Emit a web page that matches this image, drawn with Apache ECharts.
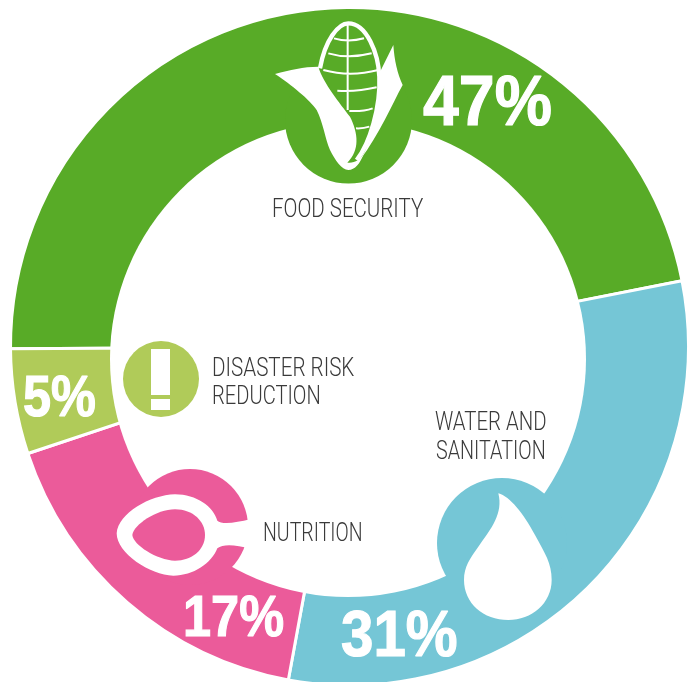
<!DOCTYPE html>
<html><head><meta charset="utf-8">
<script src="https://cdn.jsdelivr.net/npm/echarts@6/dist/echarts.min.js"></script>
<style>html,body{margin:0;padding:0;background:#fff}#c{width:696px;height:682px}</style>
</head><body><div id="c"></div>
<script>
var categories = ['FOOD SECURITY', 'WATER AND SANITATION', 'NUTRITION', 'DISASTER RISK REDUCTION'];
var values = [47, 31, 17, 5];
var colors = ['#58AB27', '#75C6D6', '#EB5B9A', '#B0CB59'];
var captionLines = [['FOOD SECURITY'], ['WATER AND', 'SANITATION'], ['NUTRITION'], ['DISASTER RISK', 'REDUCTION']];

var chart = echarts.init(document.getElementById('c'), null, {renderer: 'canvas'});
var els = [];
function circle(cx, cy, r, fill) { els.push({type: 'circle', shape: {cx: cx, cy: cy, r: r}, style: {fill: fill}}); }
function path(d, ox, oy, style) {
  els.push({type: 'path', x: ox, y: oy, scaleX: 1 / 3, scaleY: 1 / 3, shape: {pathData: d}, style: style});
}
function pct(i, x, y, size, sx) {
  els.push({type: 'text', x: x, y: y, scaleX: sx, style: {text: values[i] + '%', x: 0, y: 0, fill: '#fff',
    stroke: '#fff', lineWidth: 1.2,
    font: 'bold ' + size + 'px "Liberation Sans"', align: 'left', verticalAlign: 'middle'}});
}
function cap(t, x, y, sx) {
  els.push({type: 'text', x: x, y: y, scaleX: sx, style: {text: t, x: 0, y: 0, fill: '#3a3a3a',
    font: '300 25px Roboto', align: 'left', verticalAlign: 'middle'}});
}
// inner white disc (sits slightly below the ring's centre in the reference)
circle(348, 359, 238, '#fff');
// icon discs
circle(348.5, 120, 63.5, colors[0]);
circle(502, 543, 65, colors[1]);
circle(190, 527, 58, colors[2]);
circle(161, 379, 38, colors[3]);

// corn
var W = {fill: '#fff'};
var LINE = {fill: 'none', stroke: '#fff', lineWidth: 6};
path('M180 175C195 90 235 40 265 40C320 40 355 130 358 200C362 290 330 400 290 450', 260, 10, {fill: 'none', stroke: '#fff', lineWidth: 13});
path('M263 40L263 300M222 85Q265 98 312 85M205 130Q265 148 335 130M190 180Q270 202 355 180M232 242Q290 246 350 232M268 303Q310 305 338 295M288 355Q310 356 328 350', 260, 10, LINE);
path('M45 192C90 180 130 170 175 170C190 220 240 280 270 320C295 370 300 420 262 458C285 460 300 450 312 430C300 462 285 480 265 480C245 480 225 450 210 420C195 385 190 340 170 300C150 270 95 225 45 192Z', 260, 10, W);
path('M358 190L400 105C403 150 412 190 428 225C395 285 360 370 300 450C335 400 360 290 358 190Z', 260, 10, W);
// drop
path('M235 100C270 110 310 160 345 225C375 280 395 310 395 360C395 430 335 480 265 480C190 480 132 430 132 360C132 320 150 295 175 260C215 205 250 160 235 100Z', 420, 460, W);
// spoon
path('M50 250C55 190 150 135 225 133C290 133 340 170 352 212C365 225 410 218 450 208L450 296C410 285 370 280 352 295C335 340 280 377 220 377C150 375 50 310 50 250Z', 100, 450, W);
path('M97 255C100 225 170 178 225 178C280 178 315 215 315 255C315 300 275 332 225 332C170 330 100 285 97 255Z', 100, 450, {fill: colors[2]});
// exclamation mark
els.push({type: 'rect', shape: {x: 151, y: 349, width: 19, height: 46}, style: W});
els.push({type: 'rect', shape: {x: 151, y: 399, width: 19, height: 11}, style: W});

pct(0, 423, 106, 70, 0.92);
pct(1, 341, 638, 64, 0.91);
pct(2, 183, 620, 58, 0.87);
pct(3, 23, 400, 58, 0.87);

cap(captionLines[0][0], 272, 211, 0.82);
cap(captionLines[1][0], 435, 424, 0.815);
cap(captionLines[1][1], 436, 453, 0.79);
cap(captionLines[2][0], 263, 535, 0.78);
cap(captionLines[3][0], 212, 370, 0.825);
cap(captionLines[3][1], 212, 398, 0.805);

chart.setOption({
  animation: false,
  backgroundColor: '#fff',
  series: [{
    type: 'pie',
    z: 2,
    center: [349.5, 346.5],
    radius: [200, 339],
    startAngle: 180.4,
    clockwise: true,
    silent: true,
    label: {show: false},
    labelLine: {show: false},
    itemStyle: {borderColor: '#fff', borderWidth: 3},
    data: categories.map(function (n, i) { return {name: n, value: values[i], itemStyle: {color: colors[i]}}; })
  }, {
    type: 'custom',
    z: 5,
    silent: true,
    coordinateSystem: 'none',
    clip: false,
    data: [0],
    renderItem: function () { return {type: 'group', children: els}; }
  }]
});
</script></body></html>
